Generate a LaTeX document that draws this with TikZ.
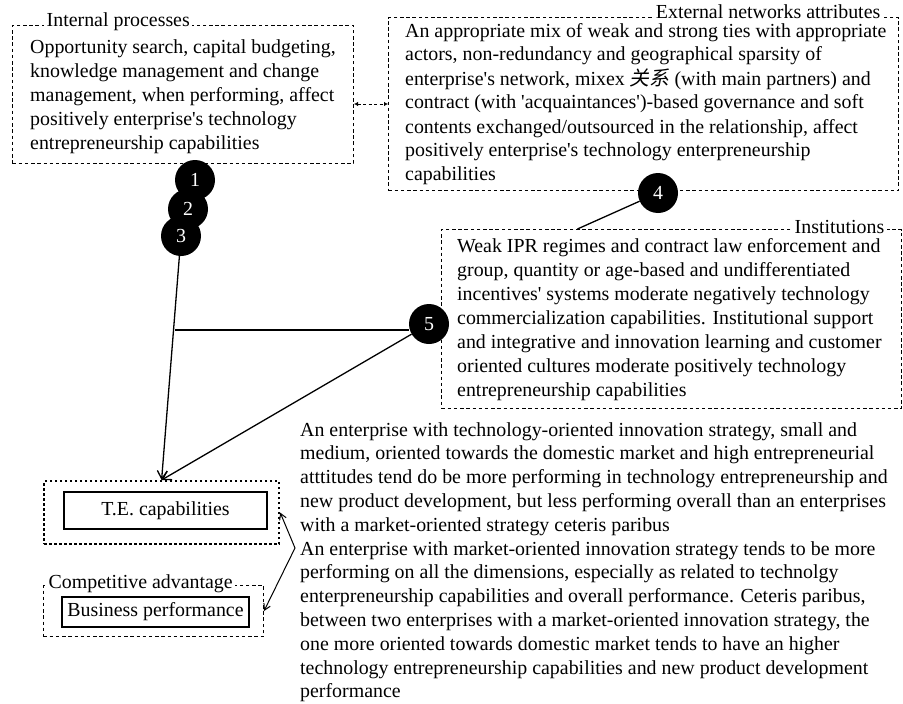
\documentclass[tikz,border=0pt]{standalone}
\usepackage{fontspec}
\setmainfont{Liberation Serif}
\newfontfamily\cjk{Noto Sans CJK SC}[FakeSlant=0.2]
\usetikzlibrary{arrows.meta,calc}
\newcommand{\txtblock}[1]{\parbox[t]{620pt}{\raggedright #1}}
\newcommand{\aps}{\textquotesingle}
\begin{document}
\begin{tikzpicture}[x=1pt,y=-1pt,
  box/.style={draw, dash pattern=on 3.5pt off 2.7pt, line width=1pt, inner sep=0, anchor=north west},
  lbl/.style={fill=white, inner sep=2.5pt, font=\fontsize{19.9}{24}\selectfont},
  txt/.style={inner sep=0, anchor=base west, font=\fontsize{19.9}{24}\selectfont},
  btxt/.style={inner sep=0, anchor=base west, font=\fontsize{19.9}{23.8}\selectfont},
  num/.style={circle, fill=black, text=white, minimum size=40pt, inner sep=0, font=\fontsize{19.9}{24}\selectfont},
  solidbox/.style={draw, line width=1.4pt, inner sep=0, font=\fontsize{19.9}{24}\selectfont},
  link/.style={line width=1.3pt},
  thinlink/.style={line width=1pt, {Straight Barb[length=6pt,width=7pt]}-{Straight Barb[length=6pt,width=7pt]}},
  dlink/.style={line width=1pt, dash pattern=on 3pt off 2.5pt, {Latex[length=4pt,width=4.5pt]}-{Latex[length=4pt,width=4.5pt]}},
  >={Straight Barb[length=8pt,width=10pt]}
]
\useasboundingbox (0,0) rectangle (903,704);

% dashed frames
\node[box, minimum width=341pt, minimum height=138pt] (ib) at (12,25) {};
\node[box, minimum width=510pt, minimum height=173pt] (eb) at (388,17) {};
\node[box, minimum width=460pt, minimum height=179pt] (ins) at (441,229) {};
\node[draw, line width=2.2pt, dash pattern=on 2.5pt off 2.5pt, inner sep=0, anchor=north west,
      minimum width=235pt, minimum height=63pt] (teo) at (43,480) {};
\node[box, minimum width=220pt, minimum height=51pt] (cao) at (43,585) {};

% labels on the frames
\node[lbl, anchor=base west] (ipl) at (44,27) {Internal processes};
\node[lbl, anchor=base east] (enl) at (883,18) {External networks attributes};
\node[lbl, anchor=base east] (inl) at (887,233) {Institutions};
\node[lbl, anchor=base west] (cal) at (46,588) {Competitive advantage};

% inner boxes
\node[solidbox, minimum width=203pt, minimum height=37pt] (te) at (165.5,510.5) {T.E. capabilities};
\node[solidbox, minimum width=187pt, minimum height=30pt] (bp) at (155.5,612) {Business performance};

% texts
\node[txt] (ipt) at (30,53) {\txtblock{Opportunity search, capital budgeting,\\
knowledge management and change\\
management, when performing, affect\\
positively enterprise\aps s technology\\
entrepreneurship capabilities}};

\node[txt] (ent) at (405,37) {\txtblock{An appropriate mix of weak and strong ties with appropriate\\
actors, non-redundancy and geographical sparsity of\\
enterprise\aps s network, mixex {\cjk 关系} (with main partners) and\\
contract (with \aps acquaintances\aps)-based governance and soft\\
contents exchanged/outsourced in the relationship, affect\\
positively enterprise\aps s technology enterpreneurship\\
capabilities}};

\node[txt] (int) at (457,252) {\txtblock{Weak IPR regimes and contract law enforcement and\\
group, quantity or age-based and undifferentiated\\
incentives\aps\ systems moderate negatively technology\\
commercialization capabilities. Institutional support\\
and integrative and innovation learning and customer\\
oriented cultures moderate positively technology\\
entrepreneurship capabilities}};

\node[btxt] (bt) at (300,436) {\txtblock{An enterprise with technology-oriented innovation strategy, small and\\
medium, oriented towards the domestic market and high entrepreneurial\\
atttitudes tend do be more performing in technology entrepreneurship and\\
new product development, but less performing overall than an enterprises\\
with a market-oriented strategy ceteris paribus\\
An enterprise with market-oriented innovation strategy tends to be more\\
performing on all the dimensions, especially as related to technolgy\\
enterpreneurship capabilities and overall performance. Ceteris paribus,\\
between two enterprises with a market-oriented innovation strategy, the\\
one more oriented towards domestic market tends to have an higher\\
technology entrepreneurship capabilities and new product development\\
performance}};

% numbered circles
\node[num] (c1) at (195,180) {1};
\node[num] (c2) at (188,209) {2};
\node[num] (c3) at (181,236) {3};
\node[num] (c4) at (658,193) {4};
\node[num] (c5) at (429,324) {5};

% connectors
\draw[dlink] (ib.east |- eb.west) -- (eb.west);
\draw[link,->] (c3) -- (teo.north);
\coordinate (j) at ($(c3.south)!0.33!(teo.north)$);
\draw[link] (j) -- (j -| c5.west);
\draw[link,->] (c5) -- (teo.north);
\coordinate (insin) at ($(ins.north west)!0.296!(ins.north east)$);
\draw[link] (c4) -- (insin);
\coordinate (v) at (295,548);
\draw[thinlink] (teo.east) -- (v) -- (cao.east);
\end{tikzpicture}
\end{document}
